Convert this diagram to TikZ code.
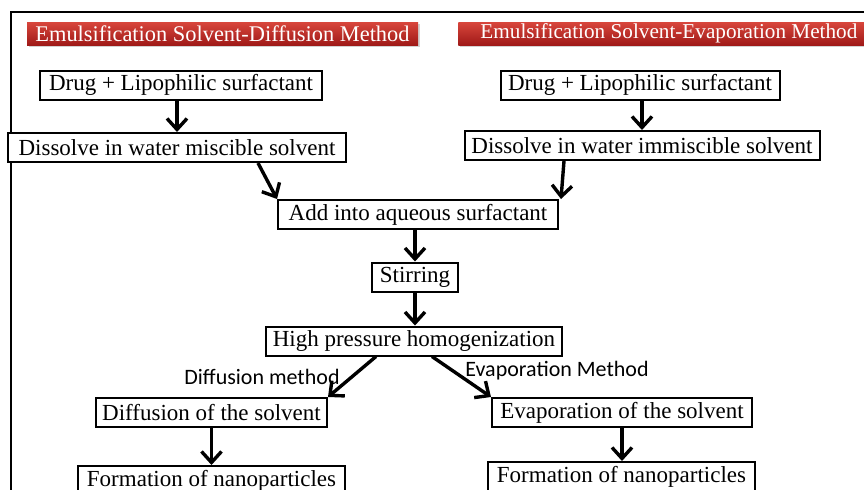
\documentclass[tikz,border=0pt]{standalone}
\usepackage{fontspec}
\setmainfont{Liberation Serif}
\newfontfamily\labelfont{Carlito}
\usetikzlibrary{%
  positioning
 ,calc
 ,arrows.meta
 ,shadows
}
\definecolor{ttltop}{RGB}{216,70,60}
\definecolor{ttlbot}{RGB}{160,26,24}
\tikzstyle{box}=[draw=black,line width=1pt,fill=white,inner xsep=2pt,inner ysep=1.5pt,minimum height=14.5pt,font=\fontsize{11.5}{13}\selectfont]
\tikzstyle{ttl}=[top color=ttltop,bottom color=ttlbot,text=white,inner sep=0pt,minimum height=11.5pt,drop shadow={opacity=0.35,shadow xshift=0.8pt,shadow yshift=-0.8pt},font=\fontsize{11.2}{13}\selectfont]
\tikzstyle{lbl}=[inner sep=0pt,font=\labelfont\fontsize{11}{13}\selectfont]

\begin{document}
\begin{tikzpicture}[x=0.5pt,y=-0.5pt,
    every edge/.style={draw,line width=1.7pt,-{Straight Barb[length=5.5pt,width=10pt]}}]
  \useasboundingbox (0,0) rectangle (864,489);
  % the frame
  \draw[line width=1.3pt] (11,520) -- (11,12) -- (890,12);
  % the titles
  \node[ttl,minimum width=195.5pt] (ttlD) at (222.5,33.5) {Emulsification Solvent-Diffusion Method};
  \node[ttl,minimum width=205pt,anchor=west,font=\fontsize{10.6}{13}\selectfont] (ttlE) at (458,33.5) {\hspace{5.5pt}Emulsification Solvent-Evaporation Method\hfill};
  % the two branches on top
  \node[box,minimum width=141pt] (drugL) at (181,85) {Drug + Lipophilic surfactant};
  \node[box,minimum width=139.5pt] (drugR) at (640,85) {Drug + Lipophilic surfactant};
  \node[box,minimum width=169pt] (dissL) at (177,147.5) {Dissolve in water miscible solvent};
  \node[box,minimum width=177.5pt] (dissR) at (642,145.5) {Dissolve in water immiscible solvent};
  % the common part
  \node[box,minimum width=140pt] (add) at (418,214.5) {Add into aqueous surfactant};
  \node[box,minimum width=43pt] (stir) at (415,277) {Stirring};
  \node[box,minimum width=148pt] (hph) at (414,341) {High pressure homogenization};
  % the two branches below
  \node[box,minimum width=115.5pt] (diffS) at (211.5,412.5) {Diffusion of the solvent};
  \node[box,minimum width=130pt] (evapS) at (622,412.5) {Evaporation of the solvent};
  \node[box,minimum width=133.5pt] (formL) at (211.5,480.5) {Formation of nanoparticles};
  \node[box,minimum width=133.5pt] (formR) at (621.5,476.5) {Formation of nanoparticles};
  \node[lbl] (lblD) at (262,377) {Diffusion method};
  \node[lbl] (lblE) at (557,371) {Evaporation Method};
  % the arrows
  \draw (drugL.south -| dissL.north) edge (dissL.north)
        (drugR.south -| dissR.north) edge (dissR.north);
  \draw ([xshift=40.5pt]dissL.south) edge (add.north west)
        ([xshift=-39pt]dissR.south) edge ([xshift=1pt]add.north east);
  \draw (add.south -| stir.north) edge (stir.north)
        (stir) edge (stir.south |- hph.north);
  \draw ([xshift=-19pt]hph.south) edge (diffS.north east)
        ([xshift=9pt]hph.south) edge (evapS.north west);
  \draw (diffS) edge (diffS.south |- formL.north)
        (evapS) edge (evapS.south |- formR.north);
\end{tikzpicture}
\end{document}
